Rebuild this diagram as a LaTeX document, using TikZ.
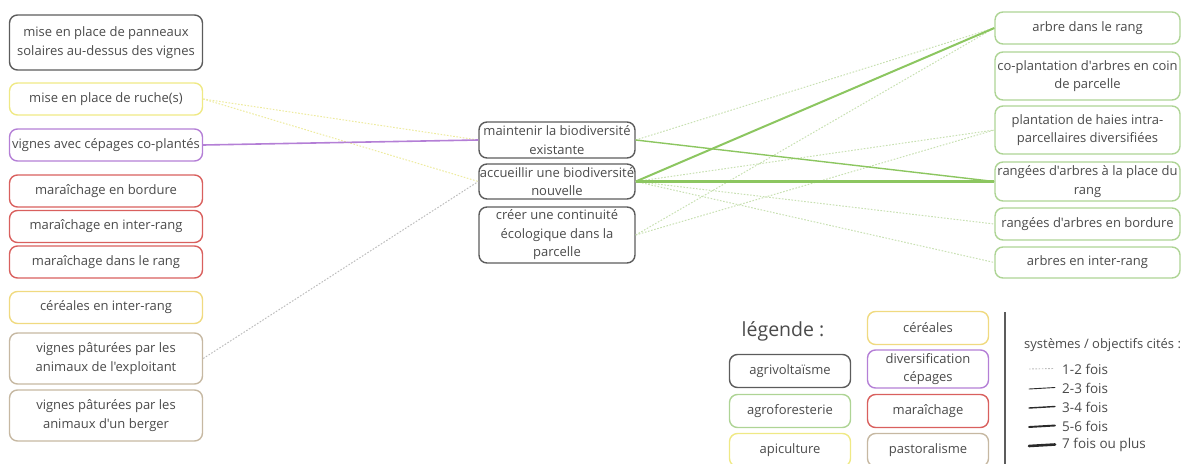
\documentclass[tikz,border=0pt]{standalone}
\usepackage{fontspec}
\setmainfont{Open Sans}[Ligatures=TeXOff]
\definecolor{txt}{HTML}{4A4A4A}
\definecolor{cgrey}{HTML}{5C5C5C}
\definecolor{cyel}{HTML}{EFE985}
\definecolor{ccer}{HTML}{F0DA80}
\definecolor{cpur}{HTML}{B47FD6}
\definecolor{cred}{HTML}{D9605E}
\definecolor{ctan}{HTML}{C6B8A2}
\definecolor{cgrn}{HTML}{AED495}
\definecolor{lgrn}{HTML}{8CC660}
\definecolor{dgrn}{HTML}{C8E0B2}
\definecolor{dyel}{HTML}{EDEB9E}
\definecolor{dgry}{HTML}{BDBDBD}
\definecolor{lblk}{HTML}{2A2A2A}
\newcommand\boxfont{\fontsize{13}{18.5}\selectfont}
\newcommand\legfont{\fontsize{13.5}{16}\selectfont}
\tikzset{
  box/.style={draw, rounded corners=8pt, line width=1.4pt, inner sep=0pt,
    align=center, font=\boxfont, text=txt},
  lbox/.style={box, minimum width=193pt, minimum height=32pt},
  cbox/.style={box, minimum width=156pt, draw=cgrey},
  rbox/.style={box, minimum width=185pt, minimum height=32pt, draw=cgrn},
  gbox/.style={box, minimum width=121pt, minimum height=33pt},
  dotline/.style={line width=1pt, dash pattern=on 1.6pt off 1.6pt},
  legline/.style={lblk, line cap=round},
  legtext/.style={font=\legfont, text=txt, anchor=west, inner sep=0pt},
}
\begin{document}
\begin{tikzpicture}[x=1pt,y=-1pt]
\useasboundingbox (0,0) rectangle (1188,463);
\clip (0,0) rectangle (1188,463);
% left column
\node[lbox, draw=cgrey, minimum height=55pt] (pan) at (106,42.5) {mise en place de panneaux\\solaires au-dessus des vignes};
\node[lbox, draw=cyel] (ruche) at (106,99) {mise en place de ruche(s)};
\node[lbox, draw=cpur] (cep) at (106,145) {vignes avec cépages co-plantés};
\node[lbox, draw=cred] (marb) at (106,191) {maraîchage en bordure};
\node[lbox, draw=cred] (mari) at (106,226.5) {maraîchage en inter-rang};
\node[lbox, draw=cred] (marr) at (106,262) {maraîchage dans le rang};
\node[lbox, draw=ccer] (cer) at (106,307.5) {céréales en inter-rang};
\node[lbox, draw=ctan, minimum height=51pt] (patE) at (106,358.5) {vignes pâturées par les\\animaux de l'exploitant};
\node[lbox, draw=ctan, minimum height=51pt] (patB) at (106,415.5) {vignes pâturées par les\\animaux d'un berger};
% center column
\node[cbox, minimum height=36pt] (maint) at (557,140) {maintenir la biodiversité\\existante};
\node[cbox, minimum height=35pt] (acc) at (557,181.5) {accueillir une biodiversité\\nouvelle};
\node[cbox, minimum height=56pt] (creer) at (557,235) {créer une continuité\\écologique dans la\\parcelle};
% right column
\node[rbox] (arbre) at (1087.5,28) {arbre dans le rang};
\node[rbox, minimum height=48pt] (copl) at (1087.5,76) {co-plantation d'arbres en coin\\de parcelle};
\node[rbox, minimum height=48pt] (haies) at (1087.5,130) {plantation de haies intra-\\parcellaires diversifiées};
\node[rbox, minimum height=39pt] (rangp) at (1087.5,181.5) {rangées d'arbres à la place du\\rang};
\node[rbox] (rangb) at (1087.5,224) {rangées d'arbres en bordure};
\node[rbox, minimum height=31pt] (inter) at (1087.5,262.5) {arbres en inter-rang};
% connectors left
\draw[dotline, dyel] (ruche.east) -- (maint.west);
\draw[dotline, dyel] (ruche.east) -- (acc.west);
\draw[dotline, dgry] (patE.east) -- (acc.west);
\draw[cpur, line width=1.6pt] (cep.east) -- (maint.west);
% connectors right
\draw[dotline, dgrn] (maint.east) -- (arbre.west);
\draw[dotline, dgrn] (creer.east) -- (arbre.west);
\draw[dotline, dgrn] (creer.east) -- (haies.west);
\draw[dotline, dgrn] (acc.east) -- (haies.west);
\draw[dotline, dgrn] (acc.east) -- (rangb.west);
\draw[dotline, dgrn] (acc.east) -- (inter.west);
\draw[lgrn, line width=1.4pt] (maint.east) -- (rangp.west);
\draw[lgrn, line width=2pt] (acc.east) -- (arbre.west);
\draw[lgrn, line width=2.8pt] (acc.east) -- (rangp.west);
% legend
\node[font=\fontsize{19.5}{22}\selectfont, text=txt, inner sep=0pt] (leg) at (783,331) {légende :};
\node[gbox, draw=cgrey] (lagv) at (790,371) {agrivoltaïsme};
\node[gbox, draw=cgrn] (lagf) at (790,411) {agroforesterie};
\node[gbox, draw=cyel] (lapi) at (790,450) {apiculture};
\node[gbox, draw=ccer] (lcer) at (928,328) {céréales};
\node[gbox, draw=cpur, minimum height=38pt] (ldiv) at (928,369) {diversification\\cépages};
\node[gbox, draw=cred] (lmar) at (928,411) {maraîchage};
\node[gbox, draw=ctan] (lpas) at (928,450) {pastoralisme};
\draw[cgrey, line width=1.3pt] (1005,312) -- (1005,470);
\node[legtext, font=\fontsize{13}{15}\selectfont] (lsys) at (1024,345) {systèmes / objectifs cités :};
\node[legtext] (l1) at (1062,369) {1-2 fois};
\node[legtext] (l2) at (1062,388) {2-3 fois};
\node[legtext] (l3) at (1062,407) {3-4 fois};
\node[legtext] (l4) at (1062,426) {5-6 fois};
\node[legtext] (l5) at (1062,445) {7 fois ou plus};
\draw[dotline, dgry, line width=0.9pt] (1029,369) -- (1054,368.5);
\draw[legline, line width=0.9pt] (1029,389) -- (1055,387.5);
\draw[legline, line width=1.4pt] (1029,408) -- (1055,406.5);
\draw[legline, line width=1.9pt] (1029,427) -- (1055,425.5);
\draw[legline, line width=2.6pt] (1029,446) -- (1055,444.5);
\end{tikzpicture}
\end{document}
